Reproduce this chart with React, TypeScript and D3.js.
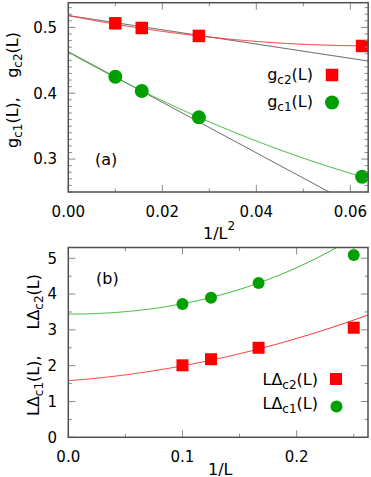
import React from "react";
import * as d3 from "d3";

// ---------- data ----------
const sizesL = [10, 8, 6, 4];
const gc2 = [0.5062, 0.4991, 0.487, 0.4718];
const gc1 = [0.425, 0.4033, 0.3634, 0.2732];
const LDc2 = [2.01, 2.18, 2.5, 3.06];
const LDc1 = [3.72, 3.9, 4.31, 5.09];

// fit coefficients (polynomial in x)
const fitA_c2 = [0.518, -1.419, 10.92];
const fitA_c1 = [0.4622, -3.979, 15.27];
const linA_c2 = [0.518, -1.083];
const linA_c1 = [0.4631, -3.84];
const fitB_c2 = [1.58, 2.4, 17.5];
const fitB_c1 = [3.44, 0, 25.5, 34.6];

const xTicksA = [0, 0.02, 0.04, 0.06];
const yTicksA = [0.3, 0.4, 0.5];
const xTicksB = [0, 0.1, 0.2];
const yTicksB = [0, 1, 2, 3, 4, 5];

// ---------- style ----------
const FONT = "DejaVu Sans";
const FS = 15; // tick labels
const FL = 16; // labels & legend
const SUB = 12;
const RED = "#ff0000";
const GREEN = "#00a000";
const RED_LINE = "#ff3030";
const GREEN_LINE = "#30b830";
const GRAY_LINE = "#555555";
const FRAME = "#505050";
const TICK = "#888888";

const poly = (c: number[]) => (x: number) => c.reduce((s, a, i) => s + a * Math.pow(x, i), 0);

function range(a: number, b: number, step: number) {
  const out: number[] = [];
  for (let v = a; v <= b + 1e-9; v += step) out.push(+v.toFixed(6));
  return out;
}

function Frame({ x, y, xMajor, xMinor, yMajor, yMinor, xFmt, yFmt }: any) {
  const [x0, x1] = x.range();
  const [y0, y1] = y.range(); // y0 bottom, y1 top
  const maj = 7,
    min = 3.5;
  const els: any[] = [];
  xMajor.forEach((v: number, i: number) => {
    const px = x(v);
    els.push(<line key={"xM" + i} x1={px} x2={px} y1={y0} y2={y0 - maj} stroke={TICK} />);
    els.push(<line key={"xMt" + i} x1={px} x2={px} y1={y1} y2={y1 + maj} stroke={TICK} />);
    els.push(
      <text key={"xl" + i} x={px} y={y0 + 25} textAnchor="middle" fontSize={FS} fontFamily={FONT}>
        {xFmt(v)}
      </text>
    );
  });
  xMinor.forEach((v: number, i: number) => {
    const px = x(v);
    els.push(<line key={"xm" + i} x1={px} x2={px} y1={y0} y2={y0 - min} stroke={TICK} />);
    els.push(<line key={"xmt" + i} x1={px} x2={px} y1={y1} y2={y1 + min} stroke={TICK} />);
  });
  yMajor.forEach((v: number, i: number) => {
    const py = y(v);
    els.push(<line key={"yM" + i} x1={x0} x2={x0 + maj} y1={py} y2={py} stroke={TICK} />);
    els.push(<line key={"yMr" + i} x1={x1} x2={x1 - maj} y1={py} y2={py} stroke={TICK} />);
    els.push(
      <text key={"yl" + i} x={57} y={py + 5.4} textAnchor="end" fontSize={FS} fontFamily={FONT}>
        {yFmt(v)}
      </text>
    );
  });
  yMinor.forEach((v: number, i: number) => {
    const py = y(v);
    els.push(<line key={"ym" + i} x1={x0} x2={x0 + min} y1={py} y2={py} stroke={TICK} />);
    els.push(<line key={"ymr" + i} x1={x1} x2={x1 - min} y1={py} y2={py} stroke={TICK} />);
  });
  els.push(
    <rect key="frame" x={x0} y={y1} width={x1 - x0} height={y0 - y1} fill="none" stroke={FRAME} strokeWidth={1.5} />
  );
  return <g>{els}</g>;
}

function Curve({ x, y, f, color, clip }: any) {
  const [d0, d1] = x.domain();
  const xs = d3.range(0, 301).map((i) => d0 + ((d1 - d0) * i) / 300);
  const line = d3
    .line<number>()
    .x((v) => x(v))
    .y((v) => y(f(v)));
  return <path d={line(xs) || ""} fill="none" stroke={color} strokeWidth={1} clipPath={`url(#${clip})`} />;
}

function Sub({ base, sub, after }: { base: string; sub: string; after: string }) {
  return (
    <>
      <tspan>{base}</tspan>
      <tspan fontSize={SUB} dy={4}>
        {sub}
      </tspan>
      <tspan dy={-4}>{after}</tspan>
    </>
  );
}

export default function App() {
  const xA = d3.scaleLinear().domain([0, 0.0638]).range([68.3, 368.2]);
  const yA = d3.scaleLinear().domain([0.25, 0.5375]).range([192, 2.7]);
  const xB = d3.scaleLinear().domain([0, 0.2625]).range([68.3, 368]);
  const yB = d3.scaleLinear().domain([0, 5.3]).range([437.3, 247.5]);

  const invL2 = sizesL.map((L) => 1 / (L * L));
  const invL = sizesL.map((L) => 1 / L);

  const sqA = 12.5,
    rA = 7,
    sqB = 12,
    rB = 6;

  return (
    <div style={{ position: "absolute", left: 0, top: 0 }}>
      <svg width={371} height={477} style={{ display: "block", background: "#fff" }}>
        <defs>
          <clipPath id="clipA">
            <rect x={68.3} y={2.7} width={368.2 - 68.3} height={192 - 2.7} />
          </clipPath>
          <clipPath id="clipB">
            <rect x={68.3} y={247.5} width={368 - 68.3} height={437.3 - 247.5} />
          </clipPath>
        </defs>

        {/* ---------- panel (a) ---------- */}
        <Curve x={xA} y={yA} f={poly(linA_c2)} color={GRAY_LINE} clip="clipA" />
        <Curve x={xA} y={yA} f={poly(linA_c1)} color={GRAY_LINE} clip="clipA" />
        <Curve x={xA} y={yA} f={poly(fitA_c2)} color={RED_LINE} clip="clipA" />
        <Curve x={xA} y={yA} f={poly(fitA_c1)} color={GREEN_LINE} clip="clipA" />
        {invL2.map((v, i) => (
          <rect key={"a2" + i} x={xA(v) - sqA / 2} y={yA(gc2[i]) - sqA / 2} width={sqA} height={sqA} fill={RED} />
        ))}
        {invL2.map((v, i) => (
          <circle key={"a1" + i} cx={xA(v)} cy={yA(gc1[i])} r={rA} fill={GREEN} />
        ))}
        <Frame
          x={xA}
          y={yA}
          xMajor={xTicksA}
          xMinor={range(0.01, 0.0638, 0.02)}
          yMajor={yTicksA}
          yMinor={range(0.25, 0.5375, 0.01).filter((v) => !yTicksA.some((t) => Math.abs(t - v) < 1e-6))}
          xFmt={d3.format(".2f")}
          yFmt={d3.format(".1f")}
        />
        <text x={95} y={165} fontSize={FL} fontFamily={FONT}>
          (a)
        </text>
        {/* legend a */}
        <text x={313} y={79.5} textAnchor="end" fontSize={FL} fontFamily={FONT}>
          <Sub base="g" sub="c2" after="(L)" />
        </text>
        <rect x={332 - sqA / 2} y={75 - sqA / 2} width={sqA} height={sqA} fill={RED} />
        <text x={313} y={106.5} textAnchor="end" fontSize={FL} fontFamily={FONT}>
          <Sub base="g" sub="c1" after="(L)" />
        </text>
        <circle cx={332} cy={102.5} r={rA} fill={GREEN} />
        {/* y label a */}
        <text transform="translate(17.5,148) rotate(-90)" fontSize={FL} fontFamily={FONT}>
          <Sub base="g" sub="c1" after="(L)," />
        </text>
        <text transform="translate(17.5,32) rotate(-90)" textAnchor="end" fontSize={FL} fontFamily={FONT}>
          <Sub base="g" sub="c2" after="(L)" />
        </text>
        {/* x label a */}
        <text x={203} y={239} fontSize={FL} fontFamily={FONT}>
          1/L
          <tspan fontSize={SUB} dy={-9}>
            2
          </tspan>
        </text>

        {/* ---------- panel (b) ---------- */}
        <Curve x={xB} y={yB} f={poly(fitB_c2)} color={RED_LINE} clip="clipB" />
        <Curve x={xB} y={yB} f={poly(fitB_c1)} color={GREEN_LINE} clip="clipB" />
        {invL.map((v, i) => (
          <rect key={"b2" + i} x={xB(v) - sqB / 2} y={yB(LDc2[i]) - sqB / 2} width={sqB} height={sqB} fill={RED} />
        ))}
        {invL.map((v, i) => (
          <circle key={"b1" + i} cx={xB(v)} cy={yB(LDc1[i])} r={rB} fill={GREEN} />
        ))}
        <Frame
          x={xB}
          y={yB}
          xMajor={xTicksB}
          xMinor={[0.05, 0.15, 0.25]}
          yMajor={yTicksB}
          yMinor={[0.5, 1.5, 2.5, 3.5, 4.5]}
          xFmt={d3.format(".1f")}
          yFmt={d3.format("d")}
        />
        <text x={96} y={284} fontSize={FL} fontFamily={FONT}>
          (b)
        </text>
        {/* legend b */}
        <text x={318} y={385} textAnchor="end" fontSize={FL} fontFamily={FONT}>
          <Sub base="LΔ" sub="c2" after="(L)" />
        </text>
        <rect x={336 - sqB / 2} y={379 - sqB / 2} width={sqB} height={sqB} fill={RED} />
        <text x={318} y={409} textAnchor="end" fontSize={FL} fontFamily={FONT}>
          <Sub base="LΔ" sub="c1" after="(L)" />
        </text>
        <circle cx={336.5} cy={406.5} r={rB} fill={GREEN} />
        {/* y label b */}
        <text transform="translate(39,416) rotate(-90)" fontSize={FL} fontFamily={FONT}>
          <Sub base="LΔ" sub="c1" after="(L)," />
        </text>
        <text transform="translate(39,274) rotate(-90)" textAnchor="end" fontSize={FL} fontFamily={FONT}>
          <Sub base="LΔ" sub="c2" after="(L)" />
        </text>
        {/* x label b */}
        <text x={208} y={475} fontSize={FL} fontFamily={FONT}>
          1/L
        </text>
      </svg>
    </div>
  );
}
